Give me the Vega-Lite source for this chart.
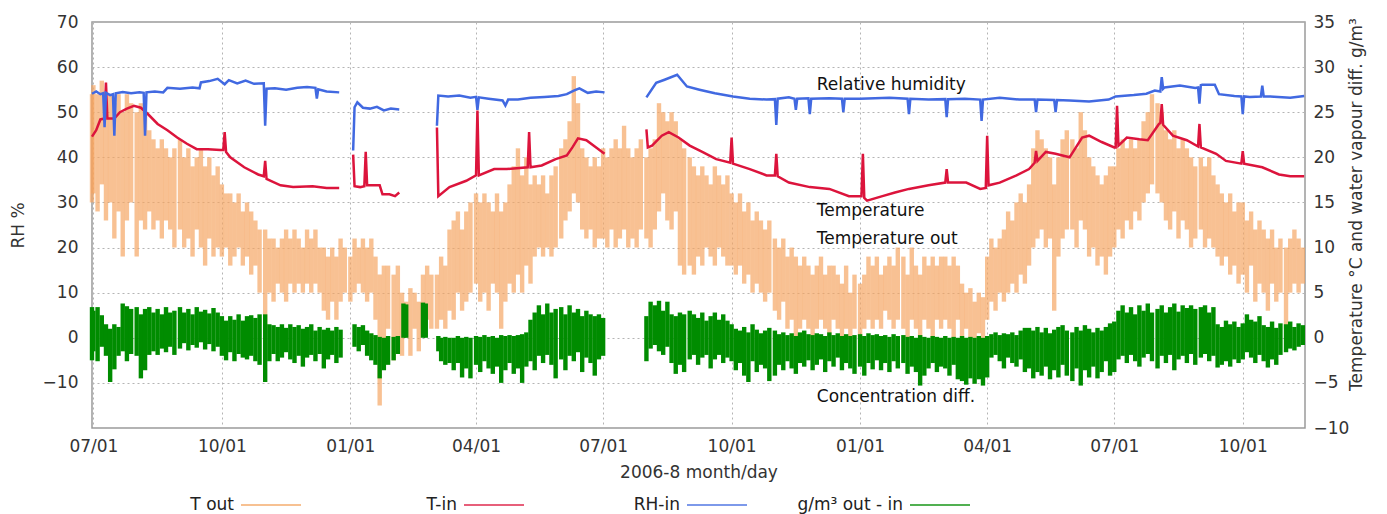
{
"$schema": "https://vega.github.io/schema/vega-lite/v6.json",
"width": 1213,
"height": 406,
"autosize": {"type": "none"},
"padding": {"left": 92, "top": 22, "right": 82, "bottom": 86},
"background": "white",
"config": {
  "view": {"stroke": "#9a9a9a", "strokeWidth": 1.5},
  "font": "DejaVu Sans",
  "axis": {"labelFont": "DejaVu Sans", "titleFont": "DejaVu Sans", "labelFontSize": 17, "titleFontSize": 17, "titleFontWeight": "normal", "labelColor": "#333333", "titleColor": "#333333", "domain": false, "ticks": false, "gridColor": "#b4b4b4", "gridDash": [2, 3], "gridWidth": 1},
  "text": {"font": "DejaVu Sans"}
},
"datasets": {
"to": [
{"t":"2006-06-30","lo":15,"hi":27},{"t":"2006-07-01","lo":16,"hi":28},{"t":"2006-07-04","lo":14,"hi":27},{"t":"2006-07-07","lo":17,"hi":28.5},{"t":"2006-07-10","lo":13,"hi":26},{"t":"2006-07-13","lo":15,"hi":27},{"t":"2006-07-16","lo":11,"hi":26},{"t":"2006-07-19","lo":14,"hi":27},{"t":"2006-07-22","lo":9,"hi":25},{"t":"2006-07-25","lo":13,"hi":27},{"t":"2006-07-28","lo":15,"hi":26},
{"t":"2006-08-01","lo":9,"hi":25},{"t":"2006-08-04","lo":13,"hi":26},{"t":"2006-08-07","lo":12,"hi":25},{"t":"2006-08-10","lo":14,"hi":23},{"t":"2006-08-13","lo":12,"hi":22},{"t":"2006-08-16","lo":13,"hi":21},{"t":"2006-08-19","lo":11,"hi":22},{"t":"2006-08-22","lo":13,"hi":21},{"t":"2006-08-25","lo":12,"hi":20},{"t":"2006-08-28","lo":10,"hi":21},
{"t":"2006-09-01","lo":12,"hi":22},{"t":"2006-09-04","lo":10,"hi":20},{"t":"2006-09-07","lo":11,"hi":21},{"t":"2006-09-10","lo":9,"hi":19},{"t":"2006-09-13","lo":12,"hi":20},{"t":"2006-09-16","lo":10,"hi":21},{"t":"2006-09-19","lo":8,"hi":19},{"t":"2006-09-22","lo":11,"hi":20},{"t":"2006-09-25","lo":9,"hi":18},{"t":"2006-09-28","lo":10,"hi":19},
{"t":"2006-10-01","lo":9,"hi":17},{"t":"2006-10-04","lo":10,"hi":16},{"t":"2006-10-07","lo":8,"hi":16},{"t":"2006-10-10","lo":9,"hi":15},{"t":"2006-10-13","lo":10,"hi":16},{"t":"2006-10-16","lo":8,"hi":14},{"t":"2006-10-19","lo":9,"hi":15},{"t":"2006-10-22","lo":7,"hi":14},{"t":"2006-10-25","lo":8,"hi":13},{"t":"2006-10-28","lo":5,"hi":12},
{"t":"2006-11-01","lo":0.5,"hi":12},{"t":"2006-11-04","lo":5,"hi":11},{"t":"2006-11-07","lo":4,"hi":11},{"t":"2006-11-10","lo":6,"hi":10},{"t":"2006-11-13","lo":5,"hi":11},{"t":"2006-11-16","lo":4,"hi":12},{"t":"2006-11-19","lo":6,"hi":11},{"t":"2006-11-22","lo":5,"hi":12},{"t":"2006-11-25","lo":6,"hi":11},{"t":"2006-11-28","lo":5,"hi":10},
{"t":"2006-12-01","lo":6,"hi":12},{"t":"2006-12-04","lo":5,"hi":11},{"t":"2006-12-07","lo":6,"hi":12},{"t":"2006-12-10","lo":5,"hi":10},{"t":"2006-12-13","lo":3,"hi":10},{"t":"2006-12-16","lo":2,"hi":9},{"t":"2006-12-19","lo":4,"hi":10},{"t":"2006-12-22","lo":2,"hi":9},{"t":"2006-12-25","lo":4,"hi":11},{"t":"2006-12-28","lo":5,"hi":10},
{"t":"2007-01-01","lo":4,"hi":9},{"t":"2007-01-04","lo":5,"hi":11},{"t":"2007-01-07","lo":6,"hi":10},{"t":"2007-01-10","lo":5,"hi":11},{"t":"2007-01-13","lo":4,"hi":10},{"t":"2007-01-16","lo":5,"hi":11},{"t":"2007-01-19","lo":2,"hi":9},{"t":"2007-01-22","lo":-7.5,"hi":7},{"t":"2007-01-25","lo":-2,"hi":8},{"t":"2007-01-28","lo":1,"hi":8},
{"t":"2007-02-01","lo":-2.5,"hi":7},{"t":"2007-02-04","lo":-1,"hi":8},{"t":"2007-02-07","lo":-2,"hi":5},{"t":"2007-02-10","lo":0,"hi":4},{"t":"2007-02-13","lo":-2,"hi":5.5},{"t":"2007-02-16","lo":1,"hi":5},{"t":"2007-02-19","lo":-1.5,"hi":4},{"t":"2007-02-22","lo":1,"hi":7},{"t":"2007-02-25","lo":2,"hi":8},{"t":"2007-02-28","lo":1,"hi":7},
{"t":"2007-03-04","lo":1,"hi":7},{"t":"2007-03-07","lo":2,"hi":9},{"t":"2007-03-10","lo":1,"hi":8},{"t":"2007-03-13","lo":3,"hi":12},{"t":"2007-03-16","lo":2,"hi":13},{"t":"2007-03-19","lo":5,"hi":14},{"t":"2007-03-22","lo":3,"hi":12},{"t":"2007-03-25","lo":4,"hi":14},{"t":"2007-03-28","lo":5,"hi":15},
{"t":"2007-04-01","lo":6,"hi":16},{"t":"2007-04-04","lo":4,"hi":15},{"t":"2007-04-07","lo":5,"hi":16},{"t":"2007-04-10","lo":3,"hi":15},{"t":"2007-04-13","lo":6,"hi":14},{"t":"2007-04-16","lo":5,"hi":16},{"t":"2007-04-19","lo":1,"hi":14},{"t":"2007-04-22","lo":4,"hi":15},{"t":"2007-04-25","lo":6,"hi":17},{"t":"2007-04-28","lo":5,"hi":19},
{"t":"2007-05-01","lo":7,"hi":21},{"t":"2007-05-04","lo":5,"hi":18},{"t":"2007-05-07","lo":8,"hi":20},{"t":"2007-05-10","lo":6,"hi":17},{"t":"2007-05-13","lo":9,"hi":18},{"t":"2007-05-16","lo":10,"hi":17},{"t":"2007-05-19","lo":9,"hi":18},{"t":"2007-05-22","lo":10,"hi":16},{"t":"2007-05-25","lo":9,"hi":18},{"t":"2007-05-28","lo":10,"hi":19},
{"t":"2007-06-01","lo":11,"hi":21},{"t":"2007-06-04","lo":13,"hi":22},{"t":"2007-06-07","lo":14,"hi":24},{"t":"2007-06-10","lo":16,"hi":29},{"t":"2007-06-13","lo":15,"hi":26},{"t":"2007-06-16","lo":12,"hi":21},{"t":"2007-06-19","lo":11,"hi":20},{"t":"2007-06-22","lo":12,"hi":19},{"t":"2007-06-25","lo":10,"hi":20},{"t":"2007-06-28","lo":11,"hi":19},
{"t":"2007-07-01","lo":11,"hi":21},{"t":"2007-07-04","lo":10,"hi":20},{"t":"2007-07-07","lo":12,"hi":21},{"t":"2007-07-10","lo":10,"hi":22},{"t":"2007-07-13","lo":11,"hi":21},{"t":"2007-07-16","lo":12,"hi":23.5},{"t":"2007-07-19","lo":10,"hi":21},{"t":"2007-07-22","lo":11,"hi":20},{"t":"2007-07-25","lo":10,"hi":21},{"t":"2007-07-28","lo":12,"hi":22},
{"t":"2007-08-01","lo":11,"hi":20},{"t":"2007-08-04","lo":10,"hi":21},{"t":"2007-08-07","lo":12,"hi":22},{"t":"2007-08-10","lo":14,"hi":26},{"t":"2007-08-13","lo":16,"hi":25},{"t":"2007-08-16","lo":13,"hi":24},{"t":"2007-08-19","lo":12,"hi":25},{"t":"2007-08-22","lo":14,"hi":24},{"t":"2007-08-25","lo":8,"hi":22},{"t":"2007-08-28","lo":7,"hi":21},
{"t":"2007-09-01","lo":8,"hi":20},{"t":"2007-09-04","lo":7,"hi":19},{"t":"2007-09-07","lo":9,"hi":18},{"t":"2007-09-10","lo":8,"hi":19},{"t":"2007-09-13","lo":10,"hi":18},{"t":"2007-09-16","lo":9,"hi":17},{"t":"2007-09-19","lo":8,"hi":19},{"t":"2007-09-22","lo":10,"hi":18},{"t":"2007-09-25","lo":9,"hi":17},{"t":"2007-09-28","lo":8,"hi":18},
{"t":"2007-10-01","lo":8,"hi":16},{"t":"2007-10-04","lo":7,"hi":15},{"t":"2007-10-07","lo":8,"hi":16},{"t":"2007-10-10","lo":6,"hi":14},{"t":"2007-10-13","lo":7,"hi":15},{"t":"2007-10-16","lo":5,"hi":13},{"t":"2007-10-19","lo":6,"hi":14},{"t":"2007-10-22","lo":5,"hi":13},{"t":"2007-10-25","lo":4,"hi":12},{"t":"2007-10-28","lo":5,"hi":13},
{"t":"2007-11-01","lo":3,"hi":11},{"t":"2007-11-04","lo":2,"hi":10},{"t":"2007-11-07","lo":4,"hi":11},{"t":"2007-11-10","lo":1,"hi":9},{"t":"2007-11-13","lo":2,"hi":10},{"t":"2007-11-16","lo":0,"hi":9},{"t":"2007-11-19","lo":1,"hi":8},{"t":"2007-11-22","lo":2,"hi":9},{"t":"2007-11-25","lo":1,"hi":8},{"t":"2007-11-28","lo":0,"hi":7},
{"t":"2007-12-01","lo":1,"hi":8},{"t":"2007-12-04","lo":2,"hi":9},{"t":"2007-12-07","lo":1,"hi":7},{"t":"2007-12-10","lo":0,"hi":8},{"t":"2007-12-13","lo":2,"hi":8},{"t":"2007-12-16","lo":1,"hi":7},{"t":"2007-12-19","lo":0,"hi":6},{"t":"2007-12-22","lo":1,"hi":8},{"t":"2007-12-25","lo":0,"hi":5},{"t":"2007-12-28","lo":1,"hi":7},
{"t":"2008-01-01","lo":0,"hi":6},{"t":"2008-01-04","lo":1,"hi":7},{"t":"2008-01-07","lo":2,"hi":9},{"t":"2008-01-10","lo":1,"hi":8},{"t":"2008-01-13","lo":2,"hi":9},{"t":"2008-01-16","lo":1,"hi":7},{"t":"2008-01-19","lo":3,"hi":8},{"t":"2008-01-22","lo":2,"hi":9},{"t":"2008-01-25","lo":1,"hi":8},{"t":"2008-01-28","lo":2,"hi":10},
{"t":"2008-02-01","lo":1,"hi":9},{"t":"2008-02-04","lo":0,"hi":7},{"t":"2008-02-07","lo":2,"hi":10},{"t":"2008-02-10","lo":1,"hi":8},{"t":"2008-02-13","lo":0,"hi":7},{"t":"2008-02-16","lo":2,"hi":9},{"t":"2008-02-19","lo":1,"hi":8},{"t":"2008-02-22","lo":0,"hi":9},{"t":"2008-02-25","lo":2,"hi":8},{"t":"2008-02-28","lo":1,"hi":9},
{"t":"2008-03-02","lo":2,"hi":9},{"t":"2008-03-05","lo":1,"hi":8},{"t":"2008-03-08","lo":0,"hi":9},{"t":"2008-03-11","lo":2,"hi":8},{"t":"2008-03-14","lo":0,"hi":6},{"t":"2008-03-17","lo":1,"hi":5},{"t":"2008-03-20","lo":0,"hi":5.5},{"t":"2008-03-23","lo":0,"hi":4},{"t":"2008-03-26","lo":0.5,"hi":5},{"t":"2008-03-29","lo":0,"hi":4.5},
{"t":"2008-04-01","lo":2,"hi":9},{"t":"2008-04-04","lo":4,"hi":11},{"t":"2008-04-07","lo":3,"hi":10},{"t":"2008-04-10","lo":5,"hi":11},{"t":"2008-04-13","lo":4,"hi":12},{"t":"2008-04-16","lo":5,"hi":14},{"t":"2008-04-19","lo":6,"hi":13},{"t":"2008-04-22","lo":5,"hi":15},{"t":"2008-04-25","lo":7,"hi":16},{"t":"2008-04-28","lo":6,"hi":15},
{"t":"2008-05-01","lo":8,"hi":17},{"t":"2008-05-04","lo":10,"hi":21},{"t":"2008-05-07","lo":11,"hi":23},{"t":"2008-05-10","lo":12,"hi":22},{"t":"2008-05-13","lo":10,"hi":21},{"t":"2008-05-16","lo":11,"hi":20},{"t":"2008-05-19","lo":3,"hi":17},{"t":"2008-05-22","lo":9,"hi":20},{"t":"2008-05-25","lo":11,"hi":22},{"t":"2008-05-28","lo":12,"hi":23},
{"t":"2008-06-01","lo":12,"hi":22},{"t":"2008-06-04","lo":10,"hi":21},{"t":"2008-06-07","lo":13,"hi":25},{"t":"2008-06-10","lo":12,"hi":23},{"t":"2008-06-13","lo":9,"hi":20},{"t":"2008-06-16","lo":10,"hi":19},{"t":"2008-06-19","lo":8,"hi":18},{"t":"2008-06-22","lo":9,"hi":17},{"t":"2008-06-25","lo":7,"hi":18},{"t":"2008-06-28","lo":9,"hi":19},
{"t":"2008-07-01","lo":10,"hi":19},{"t":"2008-07-04","lo":12,"hi":21},{"t":"2008-07-07","lo":11,"hi":22},{"t":"2008-07-10","lo":13,"hi":21},{"t":"2008-07-13","lo":12,"hi":22},{"t":"2008-07-16","lo":14,"hi":21},{"t":"2008-07-19","lo":13,"hi":22},{"t":"2008-07-22","lo":15,"hi":24},{"t":"2008-07-25","lo":16,"hi":25},{"t":"2008-07-28","lo":17,"hi":27},
{"t":"2008-08-01","lo":16,"hi":26},{"t":"2008-08-04","lo":15,"hi":25},{"t":"2008-08-07","lo":13,"hi":23},{"t":"2008-08-10","lo":12,"hi":22},{"t":"2008-08-13","lo":14,"hi":23},{"t":"2008-08-16","lo":11,"hi":21},{"t":"2008-08-19","lo":13,"hi":22},{"t":"2008-08-22","lo":12,"hi":21},{"t":"2008-08-25","lo":10,"hi":20},{"t":"2008-08-28","lo":11,"hi":19},
{"t":"2008-09-01","lo":12,"hi":20},{"t":"2008-09-04","lo":10,"hi":19},{"t":"2008-09-07","lo":11,"hi":20},{"t":"2008-09-10","lo":10,"hi":18},{"t":"2008-09-13","lo":9,"hi":17},{"t":"2008-09-16","lo":8,"hi":16},{"t":"2008-09-19","lo":9,"hi":15},{"t":"2008-09-22","lo":7,"hi":16},{"t":"2008-09-25","lo":8,"hi":14},{"t":"2008-09-28","lo":6,"hi":15},
{"t":"2008-10-01","lo":7,"hi":15},{"t":"2008-10-04","lo":5,"hi":13},{"t":"2008-10-07","lo":8,"hi":14},{"t":"2008-10-10","lo":4,"hi":12},{"t":"2008-10-13","lo":6,"hi":13},{"t":"2008-10-16","lo":5,"hi":12},{"t":"2008-10-19","lo":3,"hi":11},{"t":"2008-10-22","lo":6,"hi":12},{"t":"2008-10-25","lo":4,"hi":10},{"t":"2008-10-28","lo":5,"hi":11},
{"t":"2008-11-01","lo":1,"hi":10},{"t":"2008-11-04","lo":5,"hi":11},{"t":"2008-11-07","lo":6,"hi":12},{"t":"2008-11-10","lo":5,"hi":11},{"t":"2008-11-13","lo":6,"hi":10}
],
"cd": [
{"t":"2006-06-30","lo":-2.5,"hi":3.4},{"t":"2006-07-01","lo":-1.5,"hi":3},{"t":"2006-07-04","lo":-2.6,"hi":3.4},{"t":"2006-07-07","lo":-1,"hi":2.5},{"t":"2006-07-10","lo":-2,"hi":1.5},{"t":"2006-07-13","lo":-4.9,"hi":1},{"t":"2006-07-16","lo":-3.5,"hi":1.5},{"t":"2006-07-19","lo":-2,"hi":1.2},{"t":"2006-07-22","lo":-1.5,"hi":3.8},{"t":"2006-07-25","lo":-2.6,"hi":3.5},{"t":"2006-07-28","lo":-1.8,"hi":3.2},
{"t":"2006-08-01","lo":-2,"hi":3.4},{"t":"2006-08-04","lo":-4.5,"hi":2.6},{"t":"2006-08-07","lo":-3.6,"hi":3.2},{"t":"2006-08-10","lo":-1.9,"hi":3.4},{"t":"2006-08-13","lo":-1.5,"hi":2.8},{"t":"2006-08-16","lo":-1.9,"hi":3.2},{"t":"2006-08-19","lo":-1.2,"hi":2.6},{"t":"2006-08-22","lo":-1.6,"hi":3.4},{"t":"2006-08-25","lo":-1,"hi":2.8},{"t":"2006-08-28","lo":-1.9,"hi":3},
{"t":"2006-09-01","lo":-1.2,"hi":3.4},{"t":"2006-09-04","lo":-0.6,"hi":2.8},{"t":"2006-09-07","lo":-1.4,"hi":3.2},{"t":"2006-09-10","lo":-0.8,"hi":2.6},{"t":"2006-09-13","lo":-1.1,"hi":3.4},{"t":"2006-09-16","lo":-0.5,"hi":2.9},{"t":"2006-09-19","lo":-1.3,"hi":3.1},{"t":"2006-09-22","lo":-0.7,"hi":2.7},{"t":"2006-09-25","lo":-1.5,"hi":3.3},{"t":"2006-09-28","lo":-1,"hi":2.8},
{"t":"2006-10-01","lo":-2,"hi":2.4},{"t":"2006-10-04","lo":-2.5,"hi":1.9},{"t":"2006-10-07","lo":-1.6,"hi":2.4},{"t":"2006-10-10","lo":-2.6,"hi":2},{"t":"2006-10-13","lo":-1.8,"hi":2.6},{"t":"2006-10-16","lo":-2.2,"hi":1.9},{"t":"2006-10-19","lo":-2.4,"hi":2.4},{"t":"2006-10-22","lo":-2,"hi":2.5},{"t":"2006-10-25","lo":-2.6,"hi":2.2},{"t":"2006-10-28","lo":-3,"hi":2.6},
{"t":"2006-11-01","lo":-4.9,"hi":2.6},{"t":"2006-11-04","lo":-2.6,"hi":1.5},{"t":"2006-11-07","lo":-1.8,"hi":1.4},{"t":"2006-11-10","lo":-2.6,"hi":1.2},{"t":"2006-11-13","lo":-2.2,"hi":1.5},{"t":"2006-11-16","lo":-1.6,"hi":1.1},{"t":"2006-11-19","lo":-2.4,"hi":1.5},{"t":"2006-11-22","lo":-2.8,"hi":1.2},{"t":"2006-11-25","lo":-2,"hi":1.4},{"t":"2006-11-28","lo":-3.2,"hi":1},
{"t":"2006-12-01","lo":-2.2,"hi":1.2},{"t":"2006-12-04","lo":-1.9,"hi":1.5},{"t":"2006-12-07","lo":-2.6,"hi":0.8},{"t":"2006-12-10","lo":-1.8,"hi":1.2},{"t":"2006-12-13","lo":-3.4,"hi":0.9},{"t":"2006-12-16","lo":-2.4,"hi":1.1},{"t":"2006-12-19","lo":-1.9,"hi":0.8},{"t":"2006-12-22","lo":-2.8,"hi":1.2},{"t":"2006-12-25","lo":-2.2,"hi":0.9},
{"t":"2007-01-04","lo":-1,"hi":1.5},{"t":"2007-01-07","lo":-1.5,"hi":1.2},{"t":"2007-01-10","lo":-0.8,"hi":1.4},{"t":"2007-01-13","lo":-2,"hi":0.8},{"t":"2007-01-16","lo":-2.5,"hi":0.5},{"t":"2007-01-19","lo":-3,"hi":0.3},{"t":"2007-01-22","lo":-4.5,"hi":0.1},{"t":"2007-01-25","lo":-3.6,"hi":0},{"t":"2007-01-28","lo":-3,"hi":0.2},
{"t":"2007-02-01","lo":-2.5,"hi":0.1},{"t":"2007-02-04","lo":-1.8,"hi":0.2},
{"t":"2007-02-08","lo":0,"hi":3.8},{"t":"2007-02-10","lo":0,"hi":3.7},{"t":"2007-02-22","lo":0,"hi":3.9},{"t":"2007-02-24","lo":0,"hi":3.8},
{"t":"2007-03-05","lo":-1.5,"hi":0.2},{"t":"2007-03-07","lo":-2.6,"hi":0},{"t":"2007-03-10","lo":-3,"hi":0.1},{"t":"2007-03-13","lo":-2.8,"hi":0},{"t":"2007-03-16","lo":-3.6,"hi":0},{"t":"2007-03-19","lo":-2.8,"hi":0.2},{"t":"2007-03-22","lo":-4.4,"hi":0},{"t":"2007-03-25","lo":-3.4,"hi":0.1},{"t":"2007-03-28","lo":-4.5,"hi":0},
{"t":"2007-04-01","lo":-3,"hi":0.2},{"t":"2007-04-04","lo":-3.8,"hi":0.1},{"t":"2007-04-07","lo":-2.6,"hi":0.3},{"t":"2007-04-10","lo":-3.4,"hi":0.1},{"t":"2007-04-13","lo":-4,"hi":0.2},{"t":"2007-04-16","lo":-3.2,"hi":0},{"t":"2007-04-19","lo":-5,"hi":0.3},{"t":"2007-04-22","lo":-3.6,"hi":0.2},{"t":"2007-04-25","lo":-2.8,"hi":0.3},{"t":"2007-04-28","lo":-4,"hi":0.2},
{"t":"2007-05-01","lo":-3.4,"hi":0.3},{"t":"2007-05-04","lo":-5,"hi":0.4},{"t":"2007-05-07","lo":-3.2,"hi":0.6},{"t":"2007-05-10","lo":-2.6,"hi":2},{"t":"2007-05-13","lo":-3.6,"hi":2.8},{"t":"2007-05-16","lo":-2,"hi":3.6},{"t":"2007-05-19","lo":-2.8,"hi":2.6},{"t":"2007-05-22","lo":-1.9,"hi":3.8},{"t":"2007-05-25","lo":-3,"hi":2.8},{"t":"2007-05-28","lo":-4.5,"hi":3.2},
{"t":"2007-06-01","lo":-2.4,"hi":3.4},{"t":"2007-06-04","lo":-3.6,"hi":2.6},{"t":"2007-06-07","lo":-2,"hi":3.6},{"t":"2007-06-10","lo":-2.6,"hi":2.8},{"t":"2007-06-13","lo":-1.6,"hi":3.2},{"t":"2007-06-16","lo":-3.8,"hi":2.4},{"t":"2007-06-19","lo":-2.2,"hi":3},{"t":"2007-06-22","lo":-2.8,"hi":2.6},{"t":"2007-06-25","lo":-4.2,"hi":2.4},{"t":"2007-06-28","lo":-2.4,"hi":2.6},
{"t":"2007-07-01","lo":-2,"hi":2.2},
{"t":"2007-08-01","lo":-2.6,"hi":2.4},{"t":"2007-08-04","lo":-1.2,"hi":4},{"t":"2007-08-07","lo":-0.8,"hi":3.6},{"t":"2007-08-10","lo":-1.5,"hi":4.1},{"t":"2007-08-13","lo":-1.9,"hi":3},{"t":"2007-08-16","lo":-1,"hi":4},{"t":"2007-08-19","lo":-2.8,"hi":2.6},{"t":"2007-08-22","lo":-4,"hi":2.4},{"t":"2007-08-25","lo":-3,"hi":2.8},{"t":"2007-08-28","lo":-3.8,"hi":2.6},
{"t":"2007-09-01","lo":-2.4,"hi":3},{"t":"2007-09-04","lo":-1.9,"hi":2.6},{"t":"2007-09-07","lo":-3,"hi":2.2},{"t":"2007-09-10","lo":-2.2,"hi":2.8},{"t":"2007-09-13","lo":-1.9,"hi":1.9},{"t":"2007-09-16","lo":-3.4,"hi":2.4},{"t":"2007-09-19","lo":-2.4,"hi":2.8},{"t":"2007-09-22","lo":-1.9,"hi":2},{"t":"2007-09-25","lo":-2.8,"hi":2.6},{"t":"2007-09-28","lo":-2.2,"hi":1.9},
{"t":"2007-10-01","lo":-2.6,"hi":1.5},{"t":"2007-10-04","lo":-3.6,"hi":1},{"t":"2007-10-07","lo":-2.8,"hi":0.8},{"t":"2007-10-10","lo":-4.2,"hi":1.2},{"t":"2007-10-13","lo":-4.9,"hi":0.6},{"t":"2007-10-16","lo":-2.6,"hi":1.5},{"t":"2007-10-19","lo":-3.8,"hi":0.9},{"t":"2007-10-22","lo":-3,"hi":0.5},{"t":"2007-10-25","lo":-3.4,"hi":0.8},{"t":"2007-10-28","lo":-4.8,"hi":1.1},
{"t":"2007-11-01","lo":-4.2,"hi":0.8},{"t":"2007-11-04","lo":-3,"hi":0.4},{"t":"2007-11-07","lo":-3.6,"hi":0.6},{"t":"2007-11-10","lo":-2.6,"hi":0.3},{"t":"2007-11-13","lo":-3.4,"hi":0.5},{"t":"2007-11-16","lo":-4,"hi":0.2},{"t":"2007-11-19","lo":-2.8,"hi":0.6},{"t":"2007-11-22","lo":-3.2,"hi":0.8},{"t":"2007-11-25","lo":-2.5,"hi":0.4},{"t":"2007-11-28","lo":-3.6,"hi":0.3},
{"t":"2007-12-01","lo":-3,"hi":0.5},{"t":"2007-12-04","lo":-2.4,"hi":0.4},{"t":"2007-12-07","lo":-3.8,"hi":0.2},{"t":"2007-12-10","lo":-2.6,"hi":0.6},{"t":"2007-12-13","lo":-3.2,"hi":0.3},{"t":"2007-12-16","lo":-2.2,"hi":0.5},{"t":"2007-12-19","lo":-3.6,"hi":0.2},{"t":"2007-12-22","lo":-2.8,"hi":0.4},{"t":"2007-12-25","lo":-3.4,"hi":0.2},{"t":"2007-12-28","lo":-4,"hi":0.3},
{"t":"2008-01-01","lo":-3.2,"hi":0.4},{"t":"2008-01-04","lo":-4.2,"hi":0.2},{"t":"2008-01-07","lo":-2.8,"hi":0.5},{"t":"2008-01-10","lo":-3.5,"hi":0.3},{"t":"2008-01-13","lo":-2.5,"hi":0.4},{"t":"2008-01-16","lo":-3.6,"hi":0.2},{"t":"2008-01-19","lo":-2.8,"hi":0.3},{"t":"2008-01-22","lo":-3.8,"hi":0.1},{"t":"2008-01-25","lo":-2.6,"hi":0.4},{"t":"2008-01-28","lo":-3.4,"hi":0.2},
{"t":"2008-02-01","lo":-2.8,"hi":0.3},{"t":"2008-02-04","lo":-4,"hi":0.1},{"t":"2008-02-07","lo":-3.2,"hi":0.2},{"t":"2008-02-10","lo":-3.8,"hi":0},{"t":"2008-02-13","lo":-5.3,"hi":0.3},{"t":"2008-02-16","lo":-4.2,"hi":0.1},{"t":"2008-02-19","lo":-3.4,"hi":0},{"t":"2008-02-22","lo":-2.8,"hi":0.2},{"t":"2008-02-25","lo":-3.8,"hi":0.1},{"t":"2008-02-28","lo":-3.2,"hi":0},
{"t":"2008-03-02","lo":-3.4,"hi":0.2},{"t":"2008-03-05","lo":-4.2,"hi":0},{"t":"2008-03-08","lo":-3,"hi":0.1},{"t":"2008-03-11","lo":-4.6,"hi":0},{"t":"2008-03-14","lo":-4.8,"hi":0.2},{"t":"2008-03-17","lo":-5.2,"hi":0},{"t":"2008-03-20","lo":-4.5,"hi":0.1},{"t":"2008-03-23","lo":-5.1,"hi":0},{"t":"2008-03-26","lo":-4.6,"hi":0.2},{"t":"2008-03-29","lo":-5.3,"hi":0},
{"t":"2008-04-01","lo":-4.4,"hi":0.2},{"t":"2008-04-04","lo":-2.2,"hi":0.4},{"t":"2008-04-07","lo":-1.9,"hi":0.6},{"t":"2008-04-10","lo":-2.6,"hi":0.3},{"t":"2008-04-13","lo":-3.4,"hi":0.5},{"t":"2008-04-16","lo":-2.2,"hi":0.4},{"t":"2008-04-19","lo":-2.8,"hi":0.6},{"t":"2008-04-22","lo":-3.2,"hi":0.3},{"t":"2008-04-25","lo":-2.4,"hi":0.8},{"t":"2008-04-28","lo":-3.8,"hi":1.1},
{"t":"2008-05-01","lo":-3.4,"hi":1.1},{"t":"2008-05-04","lo":-4.5,"hi":0.8},{"t":"2008-05-07","lo":-3.8,"hi":1.2},{"t":"2008-05-10","lo":-4.2,"hi":0.6},{"t":"2008-05-13","lo":-3.2,"hi":1.1},{"t":"2008-05-16","lo":-4.6,"hi":0.5},{"t":"2008-05-19","lo":-3.6,"hi":0.9},{"t":"2008-05-22","lo":-4.4,"hi":1.2},{"t":"2008-05-25","lo":-3,"hi":1.4},{"t":"2008-05-28","lo":-4.2,"hi":0.8},
{"t":"2008-06-01","lo":-4.8,"hi":0.6},{"t":"2008-06-04","lo":-3.4,"hi":1.2},{"t":"2008-06-07","lo":-5.3,"hi":0.8},{"t":"2008-06-10","lo":-3.6,"hi":1.4},{"t":"2008-06-13","lo":-4.4,"hi":1},{"t":"2008-06-16","lo":-3.2,"hi":0.6},{"t":"2008-06-19","lo":-4.5,"hi":1.1},{"t":"2008-06-22","lo":-3.8,"hi":0.8},{"t":"2008-06-25","lo":-2.6,"hi":1.2},{"t":"2008-06-28","lo":-4.2,"hi":1.6},
{"t":"2008-07-01","lo":-3.8,"hi":1.8},{"t":"2008-07-04","lo":-2.4,"hi":3},{"t":"2008-07-07","lo":-2,"hi":3.6},{"t":"2008-07-10","lo":-2.8,"hi":2.8},{"t":"2008-07-13","lo":-1.9,"hi":3.4},{"t":"2008-07-16","lo":-2.6,"hi":2.6},{"t":"2008-07-19","lo":-3.2,"hi":3.6},{"t":"2008-07-22","lo":-2.2,"hi":3},{"t":"2008-07-25","lo":-1.8,"hi":3.8},{"t":"2008-07-28","lo":-2.6,"hi":2.8},
{"t":"2008-08-01","lo":-3.4,"hi":3.2},{"t":"2008-08-04","lo":-2,"hi":3.6},{"t":"2008-08-07","lo":-2.8,"hi":2.8},{"t":"2008-08-10","lo":-1.9,"hi":3.4},{"t":"2008-08-13","lo":-3.6,"hi":3.8},{"t":"2008-08-16","lo":-2.4,"hi":2.9},{"t":"2008-08-19","lo":-2,"hi":3.6},{"t":"2008-08-22","lo":-2.8,"hi":3.3},{"t":"2008-08-25","lo":-1.8,"hi":3.6},{"t":"2008-08-28","lo":-3,"hi":3.2},
{"t":"2008-09-01","lo":-2.2,"hi":3.4},{"t":"2008-09-04","lo":-1.8,"hi":3.6},{"t":"2008-09-07","lo":-2.6,"hi":2.8},{"t":"2008-09-10","lo":-2,"hi":3.4},{"t":"2008-09-13","lo":-3.3,"hi":1.5},{"t":"2008-09-16","lo":-3,"hi":1.2},{"t":"2008-09-19","lo":-2.6,"hi":1.9},{"t":"2008-09-22","lo":-3.2,"hi":1.5},{"t":"2008-09-25","lo":-2.4,"hi":1.8},{"t":"2008-09-28","lo":-2.8,"hi":1.2},
{"t":"2008-10-01","lo":-2.4,"hi":1.6},{"t":"2008-10-04","lo":-1.6,"hi":2.6},{"t":"2008-10-07","lo":-2.2,"hi":2},{"t":"2008-10-10","lo":-2.8,"hi":1.8},{"t":"2008-10-13","lo":-1.9,"hi":2.4},{"t":"2008-10-16","lo":-2.6,"hi":1.4},{"t":"2008-10-19","lo":-3.3,"hi":1.2},{"t":"2008-10-22","lo":-2.4,"hi":1.8},{"t":"2008-10-25","lo":-3,"hi":1.1},{"t":"2008-10-28","lo":-1.9,"hi":1.6},
{"t":"2008-11-01","lo":-1.6,"hi":1.5},{"t":"2008-11-04","lo":-1.2,"hi":1.8},{"t":"2008-11-07","lo":-1.4,"hi":1.2},{"t":"2008-11-10","lo":-1,"hi":1.6},{"t":"2008-11-13","lo":-0.8,"hi":1.4}
],
"ti": [
{"t":"2006-06-30","v":22.3,"s":1},{"t":"2006-07-03","v":23.0,"s":1},{"t":"2006-07-06","v":24.2,"s":1},{"t":"2006-07-09","v":24.3,"s":1},{"t":"2006-07-10","v":28.3,"s":1},{"t":"2006-07-11","v":24.3,"s":1},{"t":"2006-07-16","v":24.3,"s":1},{"t":"2006-07-20","v":25.0,"s":1},{"t":"2006-07-25","v":25.4,"s":1},{"t":"2006-07-30","v":25.7,"s":1},{"t":"2006-08-04","v":25.5,"s":1},{"t":"2006-08-09","v":24.8,"s":1},{"t":"2006-08-16","v":23.7,"s":1},{"t":"2006-08-23","v":23.0,"s":1},{"t":"2006-08-30","v":22.2,"s":1},{"t":"2006-09-06","v":21.5,"s":1},{"t":"2006-09-13","v":20.9,"s":1},{"t":"2006-09-21","v":20.9,"s":1},{"t":"2006-09-30","v":20.8,"s":1},{"t":"2006-10-02","v":20.8,"s":1},{"t":"2006-10-03","v":22.8,"s":1},{"t":"2006-10-04","v":20.6,"s":1},{"t":"2006-10-07","v":20.0,"s":1},{"t":"2006-10-17","v":18.9,"s":1},{"t":"2006-10-27","v":18.1,"s":1},{"t":"2006-10-31","v":17.9,"s":1},{"t":"2006-11-01","v":19.6,"s":1},{"t":"2006-11-02","v":17.6,"s":1},{"t":"2006-11-05","v":17.4,"s":1},{"t":"2006-11-12","v":16.9,"s":1},{"t":"2006-11-21","v":16.7,"s":1},{"t":"2006-12-05","v":16.8,"s":1},{"t":"2006-12-15","v":16.6,"s":1},{"t":"2006-12-24","v":16.6,"s":1},
{"t":"2007-01-03","v":20.3,"s":2},{"t":"2007-01-04","v":16.8,"s":2},{"t":"2007-01-08","v":16.7,"s":2},{"t":"2007-01-11","v":16.8,"s":2},{"t":"2007-01-12","v":20.6,"s":2},{"t":"2007-01-13","v":16.9,"s":2},{"t":"2007-01-22","v":16.9,"s":2},{"t":"2007-01-24","v":15.9,"s":2},{"t":"2007-01-29","v":15.9,"s":2},{"t":"2007-02-02","v":15.7,"s":2},{"t":"2007-02-05","v":16.1,"s":2},
{"t":"2007-03-04","v":23.3,"s":3},{"t":"2007-03-05","v":15.7,"s":3},{"t":"2007-03-13","v":16.7,"s":3},{"t":"2007-03-25","v":17.4,"s":3},{"t":"2007-04-01","v":18.0,"s":3},{"t":"2007-04-02","v":25.2,"s":3},{"t":"2007-04-03","v":18.0,"s":3},{"t":"2007-04-14","v":18.7,"s":3},{"t":"2007-04-23","v":18.7,"s":3},{"t":"2007-05-08","v":18.9,"s":3},{"t":"2007-05-09","v":22.8,"s":3},{"t":"2007-05-10","v":18.9,"s":3},{"t":"2007-05-18","v":19.1,"s":3},{"t":"2007-05-28","v":19.8,"s":3},{"t":"2007-06-05","v":20.2,"s":3},{"t":"2007-06-09","v":21.1,"s":3},{"t":"2007-06-13","v":22.1,"s":3},{"t":"2007-06-19","v":21.9,"s":3},{"t":"2007-06-26","v":21.1,"s":3},{"t":"2007-07-02","v":20.4,"s":3},
{"t":"2007-08-01","v":23.1,"s":4},{"t":"2007-08-02","v":21.1,"s":4},{"t":"2007-08-05","v":21.3,"s":4},{"t":"2007-08-12","v":22.4,"s":4},{"t":"2007-08-17","v":22.8,"s":4},{"t":"2007-08-24","v":22.2,"s":4},{"t":"2007-09-01","v":21.3,"s":4},{"t":"2007-09-10","v":20.6,"s":4},{"t":"2007-09-20","v":19.8,"s":4},{"t":"2007-09-30","v":19.4,"s":4},{"t":"2007-10-01","v":22.2,"s":4},{"t":"2007-10-02","v":19.3,"s":4},{"t":"2007-10-14","v":18.7,"s":4},{"t":"2007-10-26","v":18.0,"s":4},{"t":"2007-11-01","v":18.0,"s":4},{"t":"2007-11-02","v":20.4,"s":4},{"t":"2007-11-03","v":17.9,"s":4},{"t":"2007-11-11","v":17.2,"s":4},{"t":"2007-11-26","v":16.7,"s":4},{"t":"2007-12-10","v":16.5,"s":4},{"t":"2007-12-24","v":15.7,"s":4},{"t":"2008-01-02","v":15.7,"s":4},{"t":"2008-01-03","v":20.4,"s":4},{"t":"2008-01-04","v":15.5,"s":4},{"t":"2008-01-06","v":15.2,"s":4},{"t":"2008-01-17","v":15.7,"s":4},{"t":"2008-01-26","v":16.1,"s":4},{"t":"2008-02-05","v":16.5,"s":4},{"t":"2008-02-19","v":16.9,"s":4},{"t":"2008-03-02","v":17.2,"s":4},{"t":"2008-03-03","v":18.7,"s":4},{"t":"2008-03-04","v":17.2,"s":4},{"t":"2008-03-17","v":17.2,"s":4},{"t":"2008-03-27","v":16.5,"s":4},{"t":"2008-03-31","v":16.6,"s":4},{"t":"2008-04-01","v":22.4,"s":4},{"t":"2008-04-02","v":16.9,"s":4},{"t":"2008-04-10","v":17.2,"s":4},{"t":"2008-04-22","v":18.0,"s":4},{"t":"2008-05-01","v":18.7,"s":4},{"t":"2008-05-05","v":19.4,"s":4},{"t":"2008-05-06","v":20.7,"s":4},{"t":"2008-05-07","v":19.6,"s":4},{"t":"2008-05-13","v":20.6,"s":4},{"t":"2008-05-20","v":20.4,"s":4},{"t":"2008-05-30","v":20.0,"s":4},{"t":"2008-06-08","v":22.2,"s":4},{"t":"2008-06-13","v":22.4,"s":4},{"t":"2008-06-22","v":21.7,"s":4},{"t":"2008-07-01","v":21.1,"s":4},{"t":"2008-07-02","v":21.1,"s":4},{"t":"2008-07-03","v":25.7,"s":4},{"t":"2008-07-04","v":21.3,"s":4},{"t":"2008-07-10","v":22.2,"s":4},{"t":"2008-07-19","v":22.0,"s":4},{"t":"2008-07-25","v":21.9,"s":4},{"t":"2008-08-02","v":23.7,"s":4},{"t":"2008-08-03","v":23.8,"s":4},{"t":"2008-08-04","v":25.9,"s":4},{"t":"2008-08-05","v":23.6,"s":4},{"t":"2008-08-12","v":22.4,"s":4},{"t":"2008-08-22","v":21.9,"s":4},{"t":"2008-08-30","v":21.2,"s":4},{"t":"2008-08-31","v":23.7,"s":4},{"t":"2008-09-01","v":21.1,"s":4},{"t":"2008-09-12","v":20.4,"s":4},{"t":"2008-09-19","v":19.6,"s":4},{"t":"2008-09-30","v":19.3,"s":4},{"t":"2008-10-01","v":20.7,"s":4},{"t":"2008-10-02","v":19.3,"s":4},{"t":"2008-10-15","v":18.9,"s":4},{"t":"2008-10-27","v":18.1,"s":4},{"t":"2008-11-04","v":17.9,"s":4},{"t":"2008-11-14","v":17.9,"s":4}
],
"rh": [
{"t":"2006-06-30","v":54.1,"s":1},{"t":"2006-07-03","v":54.6,"s":1},{"t":"2006-07-06","v":54.0,"s":1},{"t":"2006-07-08","v":54.2,"s":1},{"t":"2006-07-09","v":46.7,"s":1},{"t":"2006-07-10","v":54.3,"s":1},{"t":"2006-07-13","v":53.8,"s":1},{"t":"2006-07-15","v":54.0,"s":1},{"t":"2006-07-16","v":44.8,"s":1},{"t":"2006-07-17","v":54.2,"s":1},{"t":"2006-07-22","v":54.5,"s":1},{"t":"2006-07-28","v":54.2,"s":1},{"t":"2006-08-03","v":54.4,"s":1},{"t":"2006-08-06","v":54.3,"s":1},{"t":"2006-08-07","v":44.8,"s":1},{"t":"2006-08-08","v":54.4,"s":1},{"t":"2006-08-14","v":54.6,"s":1},{"t":"2006-08-20","v":54.4,"s":1},{"t":"2006-08-23","v":55.4,"s":1},{"t":"2006-09-01","v":55.2,"s":1},{"t":"2006-09-10","v":55.5,"s":1},{"t":"2006-09-15","v":55.3,"s":1},{"t":"2006-09-16","v":56.6,"s":1},{"t":"2006-09-22","v":56.9,"s":1},{"t":"2006-09-28","v":57.4,"s":1},{"t":"2006-10-03","v":56.2,"s":1},{"t":"2006-10-06","v":57.1,"s":1},{"t":"2006-10-12","v":56.4,"s":1},{"t":"2006-10-18","v":57.0,"s":1},{"t":"2006-10-24","v":56.3,"s":1},{"t":"2006-10-31","v":56.4,"s":1},{"t":"2006-11-01","v":47.0,"s":1},{"t":"2006-11-02","v":55.2,"s":1},{"t":"2006-11-08","v":55.3,"s":1},{"t":"2006-11-16","v":55.0,"s":1},{"t":"2006-11-24","v":55.4,"s":1},{"t":"2006-12-01","v":55.6,"s":1},{"t":"2006-12-07","v":55.4,"s":1},{"t":"2006-12-08","v":53.0,"s":1},{"t":"2006-12-09","v":55.1,"s":1},{"t":"2006-12-15","v":54.6,"s":1},{"t":"2006-12-24","v":54.4,"s":1},
{"t":"2007-01-03","v":41.5,"s":2},{"t":"2007-01-04","v":51.1,"s":2},{"t":"2007-01-06","v":52.2,"s":2},{"t":"2007-01-10","v":51.0,"s":2},{"t":"2007-01-15","v":50.8,"s":2},{"t":"2007-01-20","v":51.2,"s":2},{"t":"2007-01-25","v":50.4,"s":2},{"t":"2007-01-30","v":50.8,"s":2},{"t":"2007-02-05","v":50.6,"s":2},
{"t":"2007-03-04","v":47.0,"s":3},{"t":"2007-03-05","v":53.7,"s":3},{"t":"2007-03-12","v":53.5,"s":3},{"t":"2007-03-20","v":53.7,"s":3},{"t":"2007-03-28","v":53.2,"s":3},{"t":"2007-04-01","v":53.4,"s":3},{"t":"2007-04-02","v":50.5,"s":3},{"t":"2007-04-03","v":53.3,"s":3},{"t":"2007-04-10","v":53.0,"s":3},{"t":"2007-04-20","v":52.6,"s":3},{"t":"2007-04-22","v":51.5,"s":3},{"t":"2007-04-24","v":52.8,"s":3},{"t":"2007-05-01","v":52.8,"s":3},{"t":"2007-05-10","v":53.2,"s":3},{"t":"2007-05-20","v":53.4,"s":3},{"t":"2007-05-30","v":53.6,"s":3},{"t":"2007-06-05","v":54.0,"s":3},{"t":"2007-06-10","v":54.8,"s":3},{"t":"2007-06-14","v":55.3,"s":3},{"t":"2007-06-20","v":54.3,"s":3},{"t":"2007-06-26","v":54.6,"s":3},{"t":"2007-07-02","v":54.4,"s":3},
{"t":"2007-08-01","v":53.3,"s":4},{"t":"2007-08-08","v":56.5,"s":4},{"t":"2007-08-14","v":57.2,"s":4},{"t":"2007-08-23","v":58.3,"s":4},{"t":"2007-08-30","v":55.7,"s":4},{"t":"2007-09-08","v":55.0,"s":4},{"t":"2007-09-19","v":54.2,"s":4},{"t":"2007-10-02","v":53.5,"s":4},{"t":"2007-10-14","v":53.0,"s":4},{"t":"2007-10-26","v":52.8,"s":4},{"t":"2007-11-01","v":52.9,"s":4},{"t":"2007-11-02","v":47.2,"s":4},{"t":"2007-11-03","v":53.0,"s":4},{"t":"2007-11-11","v":53.3,"s":4},{"t":"2007-11-15","v":53.0,"s":4},{"t":"2007-11-16","v":50.5,"s":4},{"t":"2007-11-17","v":53.0,"s":4},{"t":"2007-11-25","v":53.1,"s":4},{"t":"2007-11-26","v":49.6,"s":4},{"t":"2007-11-27","v":53.0,"s":4},{"t":"2007-12-10","v":53.1,"s":4},{"t":"2007-12-19","v":53.0,"s":4},{"t":"2007-12-20","v":50.0,"s":4},{"t":"2007-12-21","v":53.0,"s":4},{"t":"2008-01-01","v":53.0,"s":4},{"t":"2008-01-22","v":53.2,"s":4},{"t":"2008-02-04","v":53.0,"s":4},{"t":"2008-02-05","v":49.6,"s":4},{"t":"2008-02-06","v":53.0,"s":4},{"t":"2008-02-19","v":52.8,"s":4},{"t":"2008-03-02","v":52.9,"s":4},{"t":"2008-03-03","v":48.9,"s":4},{"t":"2008-03-04","v":52.9,"s":4},{"t":"2008-03-16","v":53.0,"s":4},{"t":"2008-03-27","v":52.8,"s":4},{"t":"2008-03-28","v":48.1,"s":4},{"t":"2008-03-29","v":52.8,"s":4},{"t":"2008-04-10","v":53.2,"s":4},{"t":"2008-04-24","v":52.8,"s":4},{"t":"2008-05-05","v":52.8,"s":4},{"t":"2008-05-06","v":50.0,"s":4},{"t":"2008-05-07","v":52.8,"s":4},{"t":"2008-05-19","v":52.7,"s":4},{"t":"2008-05-20","v":50.0,"s":4},{"t":"2008-05-21","v":52.7,"s":4},{"t":"2008-05-30","v":52.6,"s":4},{"t":"2008-06-13","v":52.4,"s":4},{"t":"2008-06-27","v":52.8,"s":4},{"t":"2008-07-02","v":53.5,"s":4},{"t":"2008-07-15","v":53.8,"s":4},{"t":"2008-07-24","v":54.1,"s":4},{"t":"2008-07-30","v":54.8,"s":4},{"t":"2008-08-03","v":54.6,"s":4},{"t":"2008-08-04","v":57.8,"s":4},{"t":"2008-08-05","v":55.2,"s":4},{"t":"2008-08-06","v":55.5,"s":4},{"t":"2008-08-17","v":55.9,"s":4},{"t":"2008-08-28","v":55.4,"s":4},{"t":"2008-08-30","v":55.5,"s":4},{"t":"2008-08-31","v":51.9,"s":4},{"t":"2008-09-01","v":56.0,"s":4},{"t":"2008-09-02","v":56.1,"s":4},{"t":"2008-09-11","v":56.1,"s":4},{"t":"2008-09-14","v":54.0,"s":4},{"t":"2008-09-25","v":53.6,"s":4},{"t":"2008-09-30","v":53.5,"s":4},{"t":"2008-10-01","v":49.6,"s":4},{"t":"2008-10-02","v":53.5,"s":4},{"t":"2008-10-06","v":53.4,"s":4},{"t":"2008-10-14","v":53.5,"s":4},{"t":"2008-10-15","v":55.9,"s":4},{"t":"2008-10-16","v":53.5,"s":4},{"t":"2008-10-20","v":53.5,"s":4},{"t":"2008-11-04","v":53.2,"s":4},{"t":"2008-11-14","v":53.6,"s":4}
],
"lab": [
{"t":"2007-12-01","v":55.0,"txt":"Relative humidity"},
{"t":"2007-12-01","v":27.1,"txt":"Temperature"},
{"t":"2007-12-01","v":20.8,"txt":"Temperature out"},
{"t":"2007-12-01","v":-14.3,"txt":"Concentration diff."}
]
},
"encoding": {
  "x": {"field": "t", "type": "temporal", "title": "2006-8 month/day",
    "scale": {"type": "utc", "domain": [{"year": 2006, "month": 6, "date": 30, "utc": true}, {"year": 2008, "month": 11, "date": 14, "hours": 14, "utc": true}]},
    "axis": {"format": "%m/%d", "labelFlush": false, "labelPadding": 10, "titlePadding": 10, "grid": true,
      "values": [{"year":2006,"month":7,"date":1,"utc":true},{"year":2006,"month":10,"date":1,"utc":true},{"year":2007,"month":1,"date":1,"utc":true},{"year":2007,"month":4,"date":1,"utc":true},{"year":2007,"month":7,"date":1,"utc":true},{"year":2007,"month":10,"date":1,"utc":true},{"year":2008,"month":1,"date":1,"utc":true},{"year":2008,"month":4,"date":1,"utc":true},{"year":2008,"month":7,"date":1,"utc":true},{"year":2008,"month":10,"date":1,"utc":true}]}}
},
"layer": [
  {
    "layer": [
      {"data": {"name": "to"},
       "mark": {"type": "rule", "strokeWidth": 4.4, "opacity": 0.68},
       "encoding": {
         "y": {"field": "lo", "type": "quantitative", "title": "Temperature °C and water vapour diff. g/m³", "scale": {"domain": [-10, 35], "nice": false, "zero": false}, "axis": {"orient": "right", "values": [-10,-5,0,5,10,15,20,25,30,35], "grid": false, "labelPadding": 8, "titlePadding": 0, "titleAngle": 270, "titleBaseline": "top", "titleY": 182}},
         "y2": {"field": "hi"},
         "color": {"datum": "T out", "type": "nominal", "scale": {"domain": ["T out", "T-in", "RH-in", "g/m³ out - in"], "range": ["#F4A460", "#DC143C", "#4169E1", "#008C00"]},
           "legend": {"title": null, "orient": "none", "legendX": 148, "legendY": 452, "direction": "horizontal", "symbolType": "stroke", "symbolSize": 3600, "symbolStrokeWidth": 2, "labelAlign": "right", "labelOffset": -68, "labelFontSize": 17, "labelFont": "DejaVu Sans", "labelColor": "#222222", "columnPadding": 46, "gridAlign": "all", "labelLimit": 300}}
       }},
      {"data": {"name": "cd"},
       "mark": {"type": "rule", "strokeWidth": 4.4},
       "encoding": {
         "y": {"field": "lo", "type": "quantitative", "title": "Temperature °C and water vapour diff. g/m³", "scale": {"domain": [-10, 35], "nice": false, "zero": false}, "axis": {"orient": "right", "values": [-10,-5,0,5,10,15,20,25,30,35], "grid": false, "labelPadding": 8, "titlePadding": 0, "titleAngle": 270, "titleBaseline": "top", "titleY": 182}},
         "y2": {"field": "hi"},
         "color": {"datum": "g/m³ out - in", "type": "nominal", "scale": {"domain": ["T out", "T-in", "RH-in", "g/m³ out - in"], "range": ["#F4A460", "#DC143C", "#4169E1", "#008C00"]},
           "legend": {"title": null, "orient": "none", "legendX": 148, "legendY": 452, "direction": "horizontal", "symbolType": "stroke", "symbolSize": 3600, "symbolStrokeWidth": 2, "labelAlign": "right", "labelOffset": -68, "labelFontSize": 17, "labelFont": "DejaVu Sans", "labelColor": "#222222", "columnPadding": 46, "gridAlign": "all", "labelLimit": 300}}
       }},
      {"data": {"name": "ti"},
       "mark": {"type": "line", "strokeWidth": 2.5},
       "encoding": {
         "y": {"field": "v", "type": "quantitative", "title": "Temperature °C and water vapour diff. g/m³", "scale": {"domain": [-10, 35], "nice": false, "zero": false}, "axis": {"orient": "right", "values": [-10,-5,0,5,10,15,20,25,30,35], "grid": false, "labelPadding": 8, "titlePadding": 0, "titleAngle": 270, "titleBaseline": "top", "titleY": 182}},
         "detail": {"field": "s", "type": "nominal"},
         "color": {"datum": "T-in", "type": "nominal", "scale": {"domain": ["T out", "T-in", "RH-in", "g/m³ out - in"], "range": ["#F4A460", "#DC143C", "#4169E1", "#008C00"]},
           "legend": {"title": null, "orient": "none", "legendX": 148, "legendY": 452, "direction": "horizontal", "symbolType": "stroke", "symbolSize": 3600, "symbolStrokeWidth": 2, "labelAlign": "right", "labelOffset": -68, "labelFontSize": 17, "labelFont": "DejaVu Sans", "labelColor": "#222222", "columnPadding": 46, "gridAlign": "all", "labelLimit": 300}}
       }}
    ]
  },
  {
    "encoding": {
      "y": {"field": "v", "type": "quantitative", "title": "RH %", "scale": {"domain": [-20, 70], "nice": false, "zero": false}, "axis": {"orient": "left", "values": [-20,-10,0,10,20,30,40,50,60,70], "labelExpr": "datum.value == -20 ? '' : datum.label", "grid": true, "labelPadding": 14, "titlePadding": 15}}
    },
    "layer": [
      {"data": {"name": "rh"},
       "mark": {"type": "line", "strokeWidth": 2.5},
       "encoding": {
         "detail": {"field": "s", "type": "nominal"},
         "color": {"datum": "RH-in", "type": "nominal", "scale": {"domain": ["T out", "T-in", "RH-in", "g/m³ out - in"], "range": ["#F4A460", "#DC143C", "#4169E1", "#008C00"]},
           "legend": {"title": null, "orient": "none", "legendX": 148, "legendY": 452, "direction": "horizontal", "symbolType": "stroke", "symbolSize": 3600, "symbolStrokeWidth": 2, "labelAlign": "right", "labelOffset": -68, "labelFontSize": 17, "labelFont": "DejaVu Sans", "labelColor": "#222222", "columnPadding": 46, "gridAlign": "all", "labelLimit": 300}}
       }},
      {"data": {"name": "lab"},
       "mark": {"type": "text", "align": "left", "baseline": "alphabetic", "fontSize": 17, "font": "DejaVu Sans", "color": "#111111"},
       "encoding": {"text": {"field": "txt", "type": "nominal"}}}
    ]
  }
],
"resolve": {"scale": {"y": "independent"}}
}
